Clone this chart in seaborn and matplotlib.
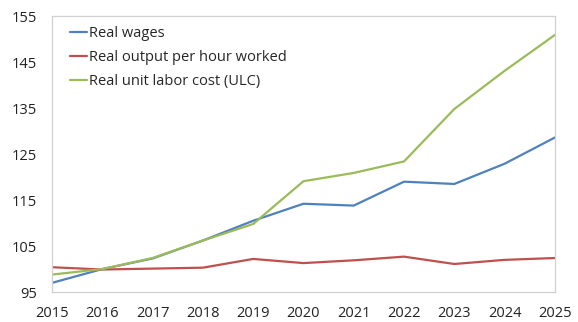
import matplotlib
matplotlib.use("Agg")
import matplotlib.pyplot as plt
import seaborn as sns
import pandas as pd

years = list(range(2015, 2026))
real_wages = [97.0, 100.0, 102.3, 106.2, 110.5, 114.2, 113.8, 119.0, 118.5, 122.9, 128.6]
real_output_per_hour = [100.4, 99.9, 100.1, 100.3, 102.2, 101.3, 101.9, 102.7, 101.1, 102.0, 102.4]
real_ulc = [98.8, 100.0, 102.4, 106.2, 109.8, 119.1, 120.9, 123.4, 134.8, 143.1, 150.9]

series_names = ["Real wages", "Real output per hour worked", "Real unit labor cost (ULC)"]
colors = ["#4F81BD", "#C0504D", "#9BBB59"]
y_ticks = [95, 105, 115, 125, 135, 145, 155]

df = pd.DataFrame({
    "year": years * 3,
    "value": real_wages + real_output_per_hour + real_ulc,
    "series": [series_names[0]] * len(years) + [series_names[1]] * len(years) + [series_names[2]] * len(years),
})

sns.set_theme(style="white")
plt.rcParams["font.family"] = ["Open Sans", "DejaVu Sans"]

fig = plt.figure(figsize=(5.78, 3.22), dpi=100)
ax = fig.add_axes([0.090, 0.093, 0.870, 0.857])

sns.lineplot(data=df, x="year", y="value", hue="series", hue_order=series_names,
             palette=colors, linewidth=1.6, ax=ax)

ax.set_xlim(2015, 2025)
ax.set_ylim(95, 155)
ax.set_xticks(years)
ax.set_yticks(y_ticks)
ax.set_xlabel("")
ax.set_ylabel("")
ax.tick_params(axis="both", direction="in", length=4, width=0.8, color="#BFBFBF",
               labelsize=10.5, labelcolor="#222222")
ax.tick_params(axis="y", pad=11)
ax.tick_params(axis="x", pad=10)
for side in ["left", "right", "top", "bottom"]:
    ax.spines[side].set_visible(True)
    ax.spines[side].set_color("#D0D0D0")
    ax.spines[side].set_linewidth(0.9)

leg = ax.legend(loc="upper left", frameon=False, fontsize=10.5, handlelength=1.15,
                handletextpad=0.1, labelspacing=0.62, borderaxespad=0.0,
                bbox_to_anchor=(0.025, 0.985))
for line in leg.get_lines():
    line.set_linewidth(1.6)

fig.savefig("out.png", dpi=100)
